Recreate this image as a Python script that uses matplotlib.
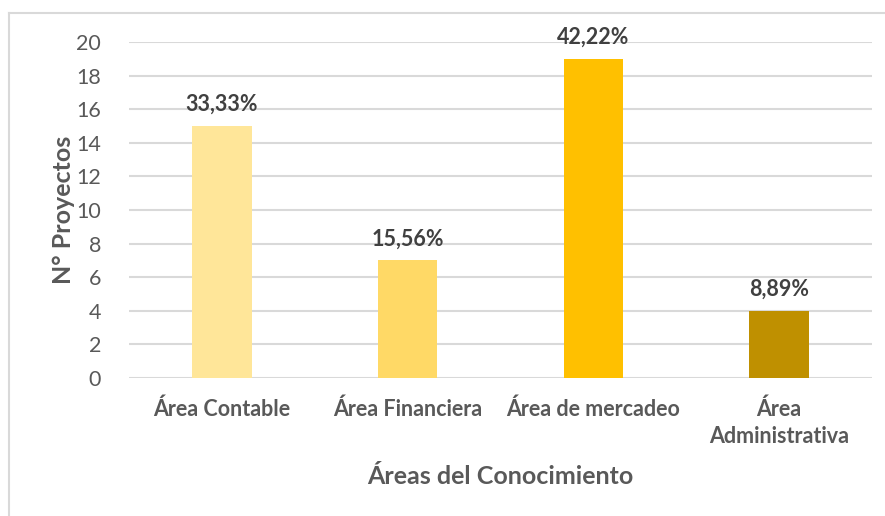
import matplotlib.pyplot as plt
from matplotlib.lines import Line2D

categories = ["Área Contable", "Área Financiera", "Área de mercadeo", "Área\nAdministrativa"]
values = [15, 7, 19, 4]
pct_labels = ["33,33%", "15,56%", "42,22%", "8,89%"]
colors = ["#FFE699", "#FFD966", "#FFC000", "#BF9000"]
yticks = [0, 2, 4, 6, 8, 10, 12, 14, 16, 18, 20]

plt.rcParams['font.family'] = ['Lato', 'DejaVu Sans']
txt = "#595959"
grid = "#D9D9D9"

fig = plt.figure(figsize=(8.85, 5.16), dpi=100)
ax = fig.add_axes([129/885, 1-378/516, (872-129)/885, (378-42)/516])

x = range(len(categories))
bars = ax.bar(x, values, width=0.32, color=colors, zorder=3)
for b, lab in zip(bars, pct_labels):
    ax.annotate(lab, (b.get_x()+b.get_width()/2, b.get_height()), xytext=(0, 8),
                textcoords="offset points", ha="center", va="bottom",
                fontsize=15.5, fontweight="bold", color="#404040")

ax.set_xlim(-0.5, len(categories)-0.5)
ax.set_ylim(0, 20)
ax.set_yticks(yticks)
ax.set_yticklabels([str(t) for t in yticks])
ax.set_xticks(list(x))
ax.set_xticklabels(categories, fontweight="bold", fontsize=15.5, color=txt, linespacing=1.35)
ax.tick_params(axis="y", length=0, labelsize=15.5, labelcolor=txt, pad=20)
ax.tick_params(axis="x", length=0, pad=15)
ax.yaxis.grid(True, color=grid, linewidth=1.5, zorder=0)
for s in ax.spines.values():
    s.set_visible(False)

ax.set_ylabel("N° Proyectos", fontsize=18, fontweight="bold", color=txt, labelpad=1)
ax.set_xlabel("Áreas del Conocimiento", fontsize=18, fontweight="bold", color=txt, labelpad=13)

# chart border
fig.add_artist(Line2D([8.5/885, 8.5/885], [0, 1-12.5/516], transform=fig.transFigure, color=grid, linewidth=1.5))
fig.add_artist(Line2D([8.5/885, 1], [1-12.5/516, 1-12.5/516], transform=fig.transFigure, color=grid, linewidth=1.5))

fig.savefig("out.png", dpi=100)
